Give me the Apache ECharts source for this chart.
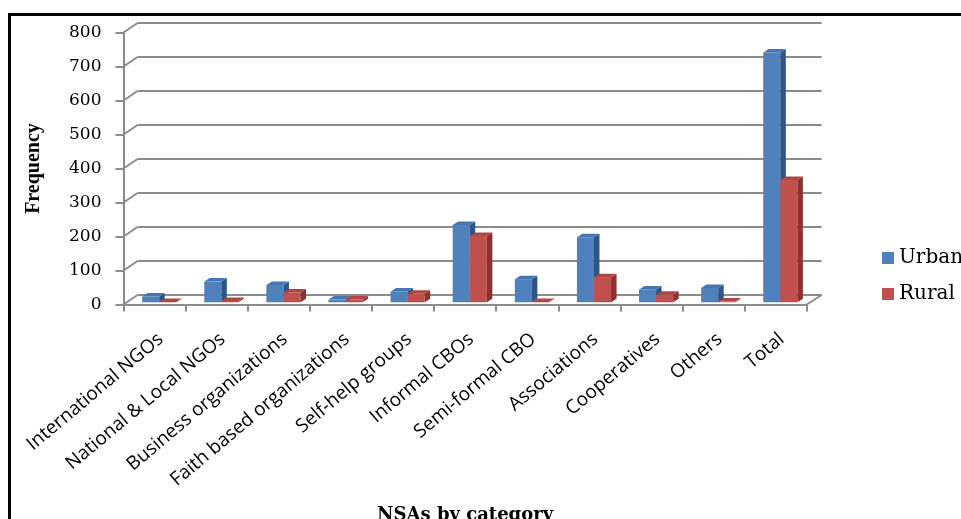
<!DOCTYPE html>
<html>
<head>
<meta charset="utf-8">
<script src="https://cdn.jsdelivr.net/npm/echarts@6/dist/echarts.min.js"></script>
<style>
  html, body { margin: 0; padding: 0; background: #fff; }
  #chart { width: 961px; height: 519px; }
</style>
</head>
<body>
<div id="chart"></div>
<script>
// NSA counts per category, split by setting
const categories = [
  'International NGOs', 'National & Local NGOs', 'Business organizations',
  'Faith based organizations', 'Self-help groups', 'Informal CBOs',
  'Semi-formal CBO', 'Associations', 'Cooperatives', 'Others', 'Total'
];
const urban = [17, 61, 51, 8, 32, 227, 68, 191, 38, 42, 735];
const rural = [1, 4, 29, 8, 25, 195, 1, 74, 22, 2, 360];
const yTicks = [0, 100, 200, 300, 400, 500, 600, 700, 800];

const seriesNames = ['Urban', 'Rural'];
const palette = [
  { front: '#4F81BD', side: '#2F5586', top: '#4676B2' },
  { front: '#C0504D', side: '#8A3230', top: '#B04542' }
];

// 3-D look: depth offset of the back wall relative to the front plane
const WALL_DX = 14, WALL_DY = -9.5;
// depth of each column box
const BOX_DX = 5.5, BOX_DY = -3.5;

const axisGray = '#8c8c8c';
const serif = 'DejaVu Serif';

function columnRenderer(k) {
  const c = palette[k];
  return function (params, api) {
    const i = api.value(0);
    const v = api.value(1);
    const base = api.coord([i, 0]);
    const peak = api.coord([i, v]);
    const band = api.size([1, 0])[0];
    const w = band * 0.275;
    const x0 = base[0] - band * 0.2 + k * w;
    const x1 = x0 + w;
    const yb = base[1] - 2.2;
    const yt = peak[1] - 2.2;
    return {
      type: 'group',
      children: [
        { type: 'rect', shape: { x: x0, y: yt, width: w, height: yb - yt },
          style: { fill: c.front } },
        { type: 'polygon', shape: { points: [[x1, yt], [x1 + BOX_DX, yt + BOX_DY], [x1 + BOX_DX, yb + BOX_DY], [x1, yb]] },
          style: { fill: c.side } },
        { type: 'polygon', shape: { points: [[x0, yt], [x0 + BOX_DX, yt + BOX_DY], [x1 + BOX_DX, yt + BOX_DY], [x1, yt]] },
          style: { fill: c.top } }
      ]
    };
  };
}

// diagonal edges joining the front axis to the back wall
function wallEdges(params, api) {
  const v = api.value(0);
  const cs = params.coordSys;
  const y = api.coord([0, v])[1];
  const children = [{
    type: 'line',
    shape: { x1: cs.x, y1: y, x2: cs.x + WALL_DX, y2: y + WALL_DY },
    style: { stroke: axisGray, lineWidth: 2 }
  }];
  if (v === 0) {
    children.push({
      type: 'line',
      shape: { x1: cs.x + cs.width, y1: y, x2: cs.x + cs.width + WALL_DX + 1, y2: y + WALL_DY },
      style: { stroke: axisGray, lineWidth: 2 }
    });
  }
  return { type: 'group', children: children };
}

const chart = echarts.init(document.getElementById('chart'), null, { renderer: 'canvas' });

const option = {
  backgroundColor: '#ffffff',
  animation: false,
  graphic: [{
    type: 'rect',
    shape: { x: 9.5, y: 14.5, width: 1200, height: 800 },
    style: { fill: 'none', stroke: '#000', lineWidth: 3 },
    z: 100
  }],
  legend: {
    orient: 'vertical',
    left: 877,
    top: 243,
    itemWidth: 12,
    itemHeight: 12,
    itemGap: 16,
    icon: 'rect',
    data: seriesNames,
    textStyle: { fontFamily: serif, fontSize: 20, color: '#000' }
  },
  grid: [
    { left: 123.5, top: 32.5, width: 683.2, height: 272, containLabel: false, outerBoundsMode: 'none' },
    { left: 137.5, top: 23, width: 684.2, height: 272, containLabel: false, outerBoundsMode: 'none' }
  ],
  xAxis: [{
    gridIndex: 0,
    type: 'category',
    data: categories,
    boundaryGap: true,
    axisLine: { show: true, lineStyle: { color: axisGray, width: 2 } },
    axisTick: { show: true, length: 7, lineStyle: { color: axisGray, width: 2 } },
    axisLabel: {
      interval: 0,
      rotate: 40,
      margin: 25,
      align: 'right',
      verticalAlign: 'top',
      fontFamily: 'Open Sans',
      fontSize: 19,
      color: '#000'
    },
    name: 'NSAs by category',
    nameLocation: 'middle',
    nameGap: 202,
    nameTextStyle: { fontFamily: serif, fontWeight: 'bold', fontSize: 18, color: '#000' }
  }, {
    gridIndex: 1,
    type: 'category',
    data: categories,
    show: false
  }],
  yAxis: [{
    gridIndex: 0,
    type: 'value',
    min: 0,
    max: 800,
    interval: 100,
    axisLine: { show: true, lineStyle: { color: axisGray, width: 2 } },
    axisTick: { show: true, length: 8, lineStyle: { color: axisGray, width: 2 } },
    splitLine: { show: false },
    axisLabel: { margin: 22, fontFamily: serif, fontSize: 17, color: '#000' },
    name: 'Frequency',
    nameLocation: 'middle',
    nameGap: 80,
    nameTextStyle: { fontFamily: 'Liberation Serif', fontWeight: 'bold', fontSize: 20, color: '#000' }
  }, {
    gridIndex: 1,
    type: 'value',
    min: 0,
    max: 800,
    interval: 100,
    axisLine: { show: false },
    axisTick: { show: false },
    axisLabel: { show: false },
    splitLine: { show: true, lineStyle: { color: axisGray, width: 2 } }
  }],
  series: [
    {
      type: 'custom',
      name: 'wall',
      xAxisIndex: 0,
      yAxisIndex: 0,
      renderItem: wallEdges,
      data: yTicks.map(v => [v]),
      encode: { y: 0 },
      silent: true,
      z: 1
    },
    {
      type: 'custom',
      name: seriesNames[0],
      xAxisIndex: 0,
      yAxisIndex: 0,
      renderItem: columnRenderer(0),
      itemStyle: { color: palette[0].front },
      data: urban.map((v, i) => [i, v]),
      encode: { x: 0, y: 1 },
      z: 3
    },
    {
      type: 'custom',
      name: seriesNames[1],
      xAxisIndex: 0,
      yAxisIndex: 0,
      renderItem: columnRenderer(1),
      itemStyle: { color: palette[1].front },
      data: rural.map((v, i) => [i, v]),
      encode: { x: 0, y: 1 },
      z: 4
    }
  ]
};

chart.setOption(option);
</script>
</body>
</html>
